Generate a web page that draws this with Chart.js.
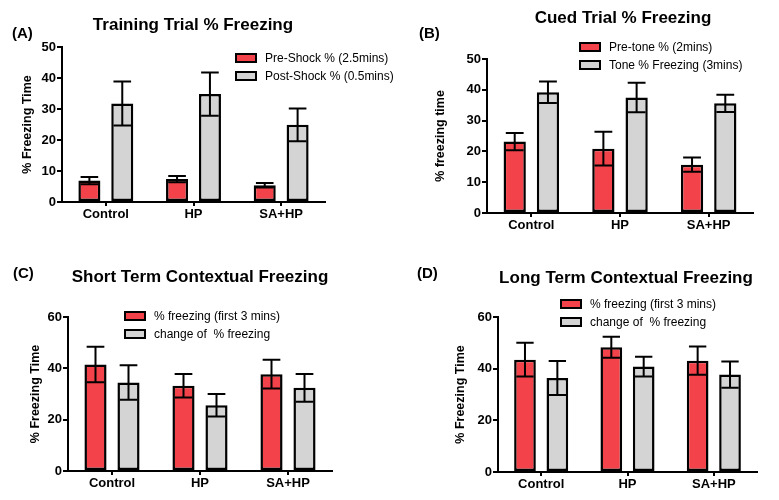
<!DOCTYPE html>
<html>
<head>
<meta charset="utf-8">
<script src="https://cdn.jsdelivr.net/npm/chart.js@4.4.1/dist/chart.umd.min.js"></script>
<style>
body{margin:0;background:#fff;}
#fig{position:relative;width:779px;height:500px;overflow:hidden;background:#fff;font-family:"Liberation Sans",Arial,sans-serif;color:#000;}
canvas{position:absolute;}
.title{position:absolute;font-weight:bold;font-size:17px;line-height:18px;white-space:nowrap;transform:translateX(-50%);}
.tag{position:absolute;font-weight:bold;font-size:15px;line-height:18px;}
.legend{position:absolute;font-size:12px;line-height:18px;}
.legend .row{display:flex;align-items:center;white-space:pre;height:18px;}
.legend .box{width:18px;height:6px;border:2px solid #000;margin-right:8px;}
</style>
</head>
<body>
<div id="fig">
  <canvas id="cA" width="390" height="250" style="left:0;top:0"></canvas>
  <canvas id="cB" width="389" height="250" style="left:390px;top:0"></canvas>
  <canvas id="cC" width="390" height="250" style="left:0;top:250px"></canvas>
  <canvas id="cD" width="389" height="250" style="left:390px;top:250px"></canvas>
</div>
<script>
// categories
var groups = ['Control', 'HP', 'SA+HP'];

// (A) training trial
var preShock = [6.9, 7.4, 5.4];
var preShockErr = [1.2, 1.0, 0.7];
var postShock = [31.8, 34.8, 24.9];
var postShockErr = [7.1, 7.0, 5.3];

// (B) cued trial
var preTone = [23.2, 20.9, 15.7];
var preToneErr = [2.8, 5.5, 2.3];
var tone = [39.2, 37.5, 35.6];
var toneErr = [3.5, 4.8, 2.8];

// (C) short term contextual
var stFirst = [41.5, 33.2, 37.7];
var stFirstErr = [6.9, 4.6, 5.6];
var stChange = [34.5, 25.6, 32.4];
var stChangeErr = [6.7, 4.4, 5.4];

// (D) long term contextual
var ltFirst = [43.5, 48.3, 43.1];
var ltFirstErr = [6.5, 4.1, 5.5];
var ltChange = [36.4, 40.8, 37.7];
var ltChangeErr = [6.6, 3.8, 5.1];

var yTicksA = [0, 50, 10];
var yTicksC = [0, 60, 20];

var RED = '#f4424a';
var GREY = '#d4d4d4';
var FONT = '"Liberation Sans", Arial, sans-serif';

Chart.defaults.font.family = FONT;
Chart.defaults.color = '#000';

var errorBars = {
  id: 'errorBars',
  afterDatasetsDraw: function(chart) {
    var ctx = chart.ctx, y = chart.scales.y;
    chart.data.datasets.forEach(function(ds, i) {
      chart.getDatasetMeta(i).data.forEach(function(bar, j) {
        var v = ds.data[j], e = ds.errors[j];
        var top = y.getPixelForValue(v + e), bot = y.getPixelForValue(v - e);
        var half = bar.width * 0.4;
        ctx.save();
        ctx.strokeStyle = '#000';
        ctx.lineWidth = 2;
        ctx.beginPath();
        ctx.moveTo(bar.x, top); ctx.lineTo(bar.x, bot);
        ctx.moveTo(bar.x - half, top); ctx.lineTo(bar.x + half, top);
        ctx.moveTo(bar.x - half, bot); ctx.lineTo(bar.x + half, bot);
        ctx.stroke();
        ctx.restore();
      });
    });
  }
};

function dataset(label, values, errs, color) {
  return {
    label: label, data: values, errors: errs,
    backgroundColor: color, borderColor: '#000', borderWidth: 2.5, borderSkipped: false,
    categoryPercentage: 0.75, barPercentage: 0.67
  };
}

function makeChart(id, sets, yRange, yTitle, pad, yWidth) {
  return new Chart(document.getElementById(id), {
    type: 'bar',
    data: { labels: groups, datasets: sets },
    plugins: [errorBars],
    options: {
      responsive: false, animation: false, devicePixelRatio: 1,
      layout: { padding: pad },
      plugins: { legend: { display: false }, tooltip: { enabled: false }, title: { display: false } },
      scales: {
        x: {
          grid: { display: true, drawOnChartArea: false, drawTicks: true, tickLength: 4, offset: false, color: '#000', lineWidth: 2 },
          border: { display: true, color: '#000', width: 2 },
          ticks: { color: '#000', font: { size: 13, weight: 'bold' }, padding: 1 },
          afterFit: function(s) { s.height = 24; }
        },
        y: {
          min: yRange[0], max: yRange[1],
          grid: { display: true, drawOnChartArea: false, drawTicks: true, tickLength: 5, color: '#000', lineWidth: 2 },
          border: { display: true, color: '#000', width: 2 },
          ticks: { stepSize: yRange[2], color: '#000', font: { size: 13, weight: 'bold' }, padding: 1 },
          title: { display: true, text: yTitle, color: '#000', font: { size: 12.5, weight: 'bold' }, padding: { top: 2, bottom: 2 } },
          afterFit: function(s) { s.width = yWidth; }
        }
      }
    }
  });
}

makeChart('cA', [dataset('Pre-Shock % (2.5mins)', preShock, preShockErr, RED),
                 dataset('Post-Shock % (0.5mins)', postShock, postShockErr, GREY)],
          yTicksA, '% Freezing Time', { left: 18, right: 65, top: 47, bottom: 24 }, 44);
makeChart('cB', [dataset('Pre-tone % (2mins)', preTone, preToneErr, RED),
                 dataset('Tone % Freezing (3mins)', tone, toneErr, GREY)],
          yTicksA, '% freezing time', { left: 41, right: 26, top: 59, bottom: 13 }, 56);
makeChart('cC', [dataset('% freezing (first 3 mins)', stFirst, stFirstErr, RED),
                 dataset('change of  % freezing', stChange, stChangeErr, GREY)],
          yTicksC, '% Freezing Time', { left: 26, right: 58, top: 67, bottom: 5 }, 42);
makeChart('cD', [dataset('% freezing (first 3 mins)', ltFirst, ltFirstErr, RED),
                 dataset('change of  % freezing', ltChange, ltChangeErr, GREY)],
          yTicksC, '% Freezing Time', { left: 61, right: 22, top: 67, bottom: 4 }, 47);

// titles, panel tags and legends laid over the canvases
var panels = [
  { chart: 'cA', tag: '(A)', tagPos: [12, 24], title: 'Training Trial % Freezing', titlePos: [193, 16], legPos: [235, 49] },
  { chart: 'cB', tag: '(B)', tagPos: [419, 24], title: 'Cued Trial % Freezing', titlePos: [623, 9], legPos: [579, 38] },
  { chart: 'cC', tag: '(C)', tagPos: [13, 264], title: 'Short Term Contextual Freezing', titlePos: [200, 268], legPos: [124, 307] },
  { chart: 'cD', tag: '(D)', tagPos: [417, 264], title: 'Long Term Contextual Freezing', titlePos: [626, 269], legPos: [560, 295] }
];

var fig = document.getElementById('fig');
panels.forEach(function(p) {
  var t = document.createElement('div');
  t.className = 'title'; t.textContent = p.title;
  t.style.left = p.titlePos[0] + 'px'; t.style.top = p.titlePos[1] + 'px';
  fig.appendChild(t);
  var g = document.createElement('div');
  g.className = 'tag'; g.textContent = p.tag;
  g.style.left = p.tagPos[0] + 'px'; g.style.top = p.tagPos[1] + 'px';
  fig.appendChild(g);
  var leg = document.createElement('div');
  leg.className = 'legend';
  leg.style.left = p.legPos[0] + 'px'; leg.style.top = p.legPos[1] + 'px';
  Chart.getChart(p.chart).data.datasets.forEach(function(ds) {
    var row = document.createElement('div'); row.className = 'row';
    var box = document.createElement('span'); box.className = 'box'; box.style.background = ds.backgroundColor;
    var txt = document.createElement('span'); txt.textContent = ds.label;
    row.appendChild(box); row.appendChild(txt); leg.appendChild(row);
  });
  fig.appendChild(leg);
});
</script>
</body>
</html>
